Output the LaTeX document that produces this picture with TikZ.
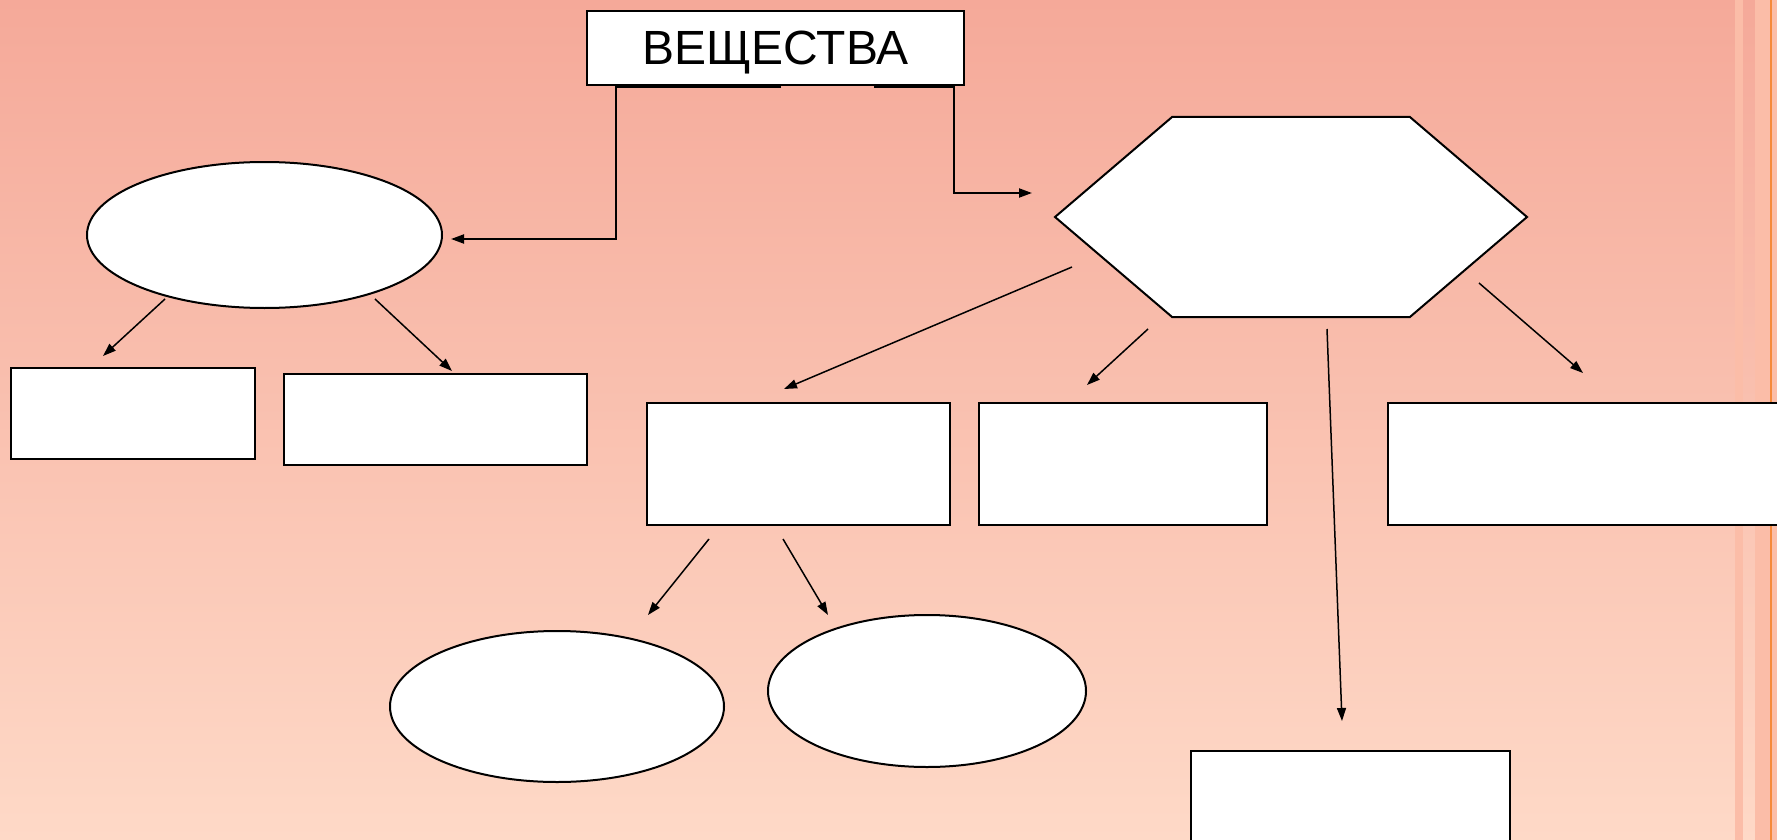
\documentclass[tikz,border=0pt]{standalone}
\usepackage{fontspec}
\setmainfont{Liberation Sans}
\usetikzlibrary{positioning,arrows.meta,shapes.geometric,shapes.symbols}
\definecolor{bgtop}{HTML}{F5A999}
\definecolor{bgbottom}{HTML}{FED9C7}
\definecolor{stripelight}{HTML}{FBBDA8}
\definecolor{stripeorange}{HTML}{F5893A}

\begin{document}
\begin{tikzpicture}[
      x=1pt, y=-1pt,
      box/.style={draw=black,fill=white,line width=2pt,inner sep=0pt},
      oval/.style={ellipse,draw=black,fill=white,line width=2pt,inner sep=0pt},
      hexbox/.style={signal,signal to=west and east,signal pointer angle=81,draw=black,fill=white,line width=2pt,inner sep=0pt},
      title/.style={draw=black,fill=white,line width=2pt,inner sep=0pt,minimum width=377pt,minimum height=74pt,text depth=0pt,font=\fontsize{48}{52}\selectfont},
      arr/.style={-{Triangle[length=13pt,width=9pt]},line width=1.5pt,draw=black},
      elbow/.style={-{Triangle[length=13pt,width=9pt]},line width=2pt,draw=black}
    ]
    \useasboundingbox (0,0) rectangle (1777,840);
    \shade[top color=bgtop,bottom color=bgbottom] (0,0) rectangle (1777,840);
    \fill[stripelight] (1735,0) rectangle (1743,840);
    \fill[stripelight] (1755,0) rectangle (1777,840);
    \fill[stripeorange] (1770,0) rectangle (1772,840);

    \node[title] (subst) at (775.5,48) {ВЕЩЕСТВА};
    \node[oval, minimum width=355pt, minimum height=146pt] (ovL) at (264.5,235) {};
    \node[hexbox, minimum width=472pt, minimum height=200pt] (hex) at (1291,217) {};
    \node[box, minimum width=244pt, minimum height=91pt] (rA) at (133,413.5) {};
    \node[box, minimum width=303pt, minimum height=91pt] (rB) at (435.5,419.5) {};
    \node[box, minimum width=303pt, minimum height=122pt] (rC) at (798.5,464) {};
    \node[box, minimum width=288pt, minimum height=122pt] (rD) at (1123,464) {};
    \node[box, minimum width=412pt, minimum height=122pt] (rE) at (1594,464) {};
    \node[box, minimum width=319pt, minimum height=129pt] (rF) at (1350.5,815.5) {};
    \node[oval, minimum width=334pt, minimum height=151pt] (ovBL) at (557,706.5) {};
    \node[oval, minimum width=318pt, minimum height=152pt] (ovBR) at (927,691) {};

    % free ends of the connectors
    \coordinate (substL) at (781,87);
    \coordinate (bendL) at (616,87);
    \coordinate (ovLin) at (451,239);
    \coordinate (substR) at (874,87);
    \coordinate (bendR) at (954,87);
    \coordinate (hexin) at (1032,193);
    \coordinate (ovLa) at (165,299);  \coordinate (rAin) at (103,356);
    \coordinate (ovLb) at (375,299);  \coordinate (rBin) at (452,371);
    \coordinate (hexa) at (1072,267); \coordinate (rCin) at (784,389);
    \coordinate (hexb) at (1148,329); \coordinate (rDin) at (1087,385);
    \coordinate (hexc) at (1327,329); \coordinate (rFin) at (1342,721);
    \coordinate (hexd) at (1479,283); \coordinate (rEin) at (1583,373);
    \coordinate (rCa) at (709,539);   \coordinate (ovBLin) at (648,615);
    \coordinate (rCb) at (783,539);   \coordinate (ovBRin) at (828,615);

    \draw[elbow] (substL) -- (bendL) |- (ovLin);
    \draw[elbow] (substR) -- (bendR) |- (hexin);
    \draw[arr] (ovLa) -- (rAin);
    \draw[arr] (ovLb) -- (rBin);
    \draw[arr] (hexa) -- (rCin);
    \draw[arr] (hexb) -- (rDin);
    \draw[arr] (hexc) -- (rFin);
    \draw[arr] (hexd) -- (rEin);
    \draw[arr] (rCa) -- (ovBLin);
    \draw[arr] (rCb) -- (ovBRin);
  \end{tikzpicture}
\end{document}
